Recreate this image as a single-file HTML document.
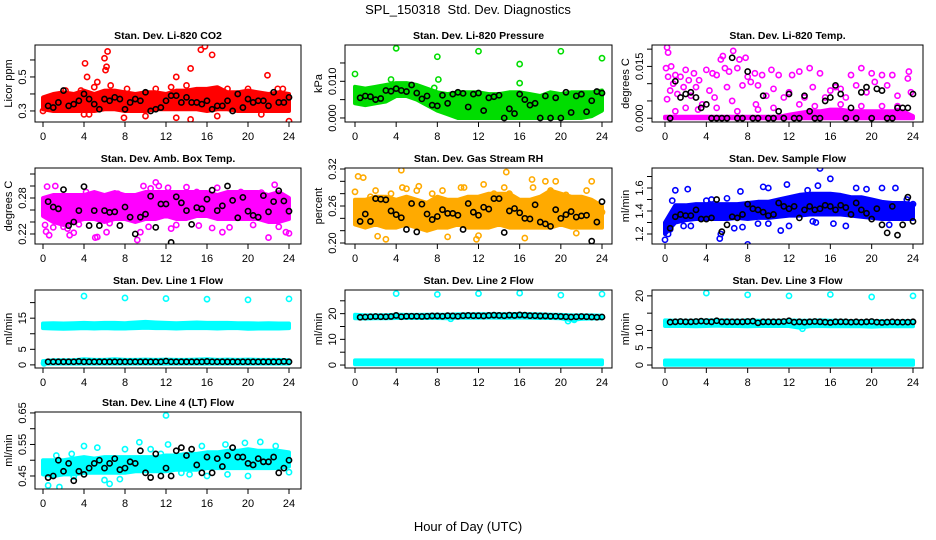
<!DOCTYPE html>
<html><head><meta charset="utf-8"><style>
html,body{margin:0;padding:0;background:#fff;}
svg{display:block;font-family:"Liberation Sans",sans-serif;}
</style></head><body>
<svg id="chart" width="936" height="540" viewBox="0 0 936 540" xmlns="http://www.w3.org/2000/svg">
<rect x="0" y="0" width="936" height="540" fill="#fff"/>
<text x="468" y="14" text-anchor="middle" font-size="13">SPL_150318&#160; Std. Dev. Diagnostics</text>
<text x="468" y="531" text-anchor="middle" font-size="13">Hour of Day (UTC)</text>
</svg>
<script>
const hours=[0,1,2,3,4,5,6,7,8,9,10,11,12,13,14,15,16,17,18,19,20,21,22,23,24];
const blackHours=[0.5,1,1.5,2,2.5,3,3.5,4,4.5,5,5.5,6,6.5,7,7.5,8,8.5,9,9.5,10,10.5,11,11.5,12,12.5,13,13.5,14,14.5,15,15.5,16,16.5,17,17.5,18,18.5,19,19.5,20,20.5,21,21.5,22,22.5,23,23.5,24];
const xTicks=[0,4,8,12,16,20,24];

// Panel 1 CO2
const co2Lo=[0.31,0.30,0.30,0.30,0.30,0.30,0.31,0.31,0.30,0.30,0.30,0.31,0.31,0.31,0.31,0.31,0.30,0.31,0.31,0.30,0.30,0.30,0.30,0.30,0.30];
const co2Hi=[0.38,0.40,0.41,0.40,0.42,0.40,0.42,0.42,0.41,0.40,0.41,0.41,0.40,0.42,0.42,0.43,0.43,0.44,0.41,0.41,0.42,0.41,0.40,0.41,0.40];
const co2Pts=[[4.1,0.58],[4.3,0.50],[5.3,0.47],[6,0.61],[6.1,0.54],[6.3,0.65],[6.2,0.56],[6.6,0.45],[13,0.50],[14.4,0.55],[15.4,0.66],[15.8,0.68],[16.5,0.63],[21.9,0.51],[4,0.28],[4.5,0.28],[7.9,0.26],[13,0.26],[14.4,0.25],[24,0.24],[23.4,0.43],[17,0.27],[10,0.27],[2.2,0.42],[3.7,0.42],[5,0.44],[8.2,0.43],[11,0.43],[12.5,0.44],[14,0.45],[18,0.43],[20,0.43],[22.9,0.43],[0,0.30],[21.3,0.28]];
const co2Black=[0.33,0.32,0.35,0.42,0.33,0.34,0.36,0.40,0.37,0.34,0.31,0.37,0.36,0.38,0.37,0.31,0.35,0.37,0.36,0.41,0.30,0.31,0.32,0.36,0.39,0.39,0.35,0.38,0.35,0.35,0.34,0.36,0.31,0.33,0.33,0.36,0.30,0.40,0.32,0.37,0.35,0.36,0.36,0.33,0.41,0.35,0.35,0.38];

// Panel 2 Pressure
const presLo=[0.004,0.0035,0.004,0.0045,0.006,0.006,0.005,0.0035,0.002,0.001,0,0,0,0,0,0,0,0,0,0,0,0,0,0.0005,0.002];
const presHi=[0.0085,0.008,0.0085,0.009,0.0095,0.0095,0.009,0.008,0.007,0.0065,0.007,0.007,0.007,0.0065,0.0065,0.007,0.007,0.0065,0.006,0.007,0.0065,0.007,0.007,0.007,0.0075];
const presPts=[[0,0.012],[4,0.019],[8,0.0167],[8.1,0.0105],[12,0.0182],[16,0.0147],[16,0.0095],[20,0.0182],[24,0.0163],[3.5,0.0105],[7.7,0.0082]];
const presBlack=[0.0055,0.006,0.0058,0.005,0.0053,0.0075,0.0073,0.008,0.0075,0.0072,0.009,0.0068,0.0052,0.006,0.0035,0.0033,0.0062,0.004,0.0065,0.007,0.0067,0.003,0.0065,0.0068,0.002,0.0055,0.0058,0.0062,0,0.0025,0.0012,0.0065,0.005,0.0035,0.004,0,0.006,0,0.0055,0,0.007,0.0015,0.006,0.0065,0.0017,0.0047,0.0072,0.0068];

// Panel 3 Li-820 Temp
const tempLo=[0,0,0,0,0,0,0,0,0,0,0,0,0,0,0,0,0,0,0,0,0,0,0,0,0];
const tempHi=[0.0004,0.0004,0.0004,0.0004,0.0004,0.0004,0.0004,0.0004,0.0004,0.0004,0.0004,0.0004,0.001,0.0015,0.002,0.002,0.0025,0.0025,0.002,0.002,0.002,0.002,0.002,0.002,0.0006];
const tempPts=[[0.2,0.0205],[0.3,0.019],[0.1,0.0145],[0.3,0.012],[0.6,0.015],[0.8,0.01],[0.5,0.008],[0.2,0.0055],[1,0.0125],[1.2,0.007],[1.5,0.012],[1.8,0.009],[2,0.014],[2.3,0.011],[2.5,0.0065],[2.8,0.013],[3,0.009],[3.3,0.011],[3.6,0.004],[4,0.014],[4.3,0.008],[4.6,0.013],[5,0.0125],[5.4,0.017],[5.6,0.018],[5.8,0.0145],[6,0.009],[6.2,0.0135],[6.6,0.0195],[7,0.0145],[7.2,0.017],[7.5,0.0095],[7.8,0.0175],[8,0.012],[8.3,0.0105],[8.7,0.013],[9,0.0095],[9.4,0.0125],[9.8,0.0065],[10.3,0.014],[10.5,0.0085],[11,0.0125],[11.5,0.006],[12,0.0075],[12.3,0.0125],[13,0.0135],[13.5,0.006],[14,0.0145],[14.3,0.009],[15,0.013],[15.5,0.006],[16,0.008],[16.5,0.009],[17,0.0085],[17.5,0.006],[18,0.0125],[18.5,0.0095],[19,0.0145],[19.5,0.0075],[20,0.013],[20.3,0.0105],[21,0.0125],[21.5,0.0095],[22,0.0125],[22.5,0.0065],[23.5,0.0115],[23.8,0.0075],[23.6,0.0135],[2,0.003],[5,0.003],[7,0.002],[9,0.0025],[10.5,0.003],[1,0.002],[3.2,0.0025],[6.5,0.005],[4.8,0.006],[8.8,0.004],[13,0.004],[14.5,0.0035],[17,0.004],[19,0.0035],[21,0.0035],[22.5,0.0035]];
const tempBlack=[0,0.0107,0.006,0.007,0.0075,0.006,0.003,0.004,0,0,0,0,0.0175,0,0,0.0135,0,0,0.0065,0,0,0.002,0,0.007,0,0,0.0065,0.002,0,0,0.005,0.006,0.0095,0.007,0,0.003,0,0.0075,0.009,0,0.0085,0.008,0,0,0.003,0.003,0.003,0.007];

// Panel 4 Amb box temp
const ambLo=[0.25,0.24,0.235,0.24,0.245,0.245,0.24,0.245,0.245,0.24,0.245,0.245,0.25,0.245,0.245,0.25,0.25,0.245,0.245,0.245,0.245,0.245,0.24,0.24,0.245];
const ambHi=[0.28,0.285,0.285,0.285,0.285,0.29,0.285,0.29,0.285,0.285,0.29,0.29,0.29,0.29,0.29,0.29,0.29,0.285,0.29,0.29,0.29,0.29,0.285,0.29,0.28];
const ambPts=[[0.2,0.235],[0.3,0.224],[0.6,0.218],[0.4,0.299],[1,0.231],[1.2,0.3],[2,0.232],[2.4,0.229],[2.6,0.218],[3,0.222],[3.5,0.236],[4.2,0.29],[5.1,0.214],[5.3,0.215],[6.2,0.223],[6.5,0.238],[7,0.287],[7.3,0.287],[8.5,0.275],[9.2,0.21],[9.5,0.223],[9.8,0.3],[10.3,0.232],[10.5,0.296],[11,0.306],[11.3,0.3],[12.2,0.297],[12.5,0.229],[13,0.235],[14,0.298],[15,0.29],[15.2,0.234],[16.5,0.23],[17,0.297],[17.5,0.223],[18.2,0.231],[19.3,0.29],[20,0.25],[20.5,0.235],[21.3,0.289],[22,0.214],[22.6,0.302],[23.7,0.223],[24,0.221],[23,0.232],[1.5,0.258]];
const ambBlack=[0.274,0.265,0.262,0.294,0.234,0.24,0.259,0.299,0.234,0.259,0.234,0.259,0.256,0.257,0.234,0.265,0.248,0.22,0.248,0.253,0.283,0.231,0.27,0.27,0.206,0.282,0.272,0.259,0.236,0.264,0.262,0.278,0.293,0.259,0.267,0.30,0.276,0.247,0.281,0.258,0.251,0.248,0.284,0.257,0.274,0.292,0.275,0.258];

// Panel 5 Gas stream RH
const rhLo=[0.23,0.225,0.23,0.225,0.225,0.23,0.225,0.22,0.225,0.225,0.23,0.225,0.225,0.225,0.23,0.225,0.225,0.225,0.225,0.225,0.23,0.225,0.225,0.225,0.225];
const rhHi=[0.27,0.27,0.275,0.275,0.27,0.275,0.27,0.265,0.275,0.27,0.27,0.275,0.275,0.28,0.28,0.28,0.27,0.27,0.275,0.285,0.28,0.275,0.275,0.27,0.26];
const rhPts=[[0.3,0.308],[0.8,0.306],[0,0.283],[1.5,0.275],[2,0.285],[2.2,0.211],[3,0.206],[4.5,0.318],[4.6,0.29],[5,0.288],[6,0.285],[6.2,0.292],[7.5,0.28],[8.5,0.285],[9,0.21],[10.3,0.29],[10.6,0.29],[11.8,0.206],[12.5,0.295],[12,0.212],[14.7,0.315],[14.5,0.29],[15,0.28],[16.5,0.208],[17.2,0.303],[17.3,0.29],[18.5,0.3],[19.5,0.3],[19,0.285],[20.5,0.278],[21.5,0.216],[22.5,0.285],[23,0.3],[23.5,0.26],[24,0.25],[13.5,0.28],[3.5,0.28]];
const rhBlack=[0.235,0.247,0.235,0.272,0.271,0.27,0.252,0.246,0.241,0.222,0.264,0.218,0.263,0.247,0.238,0.243,0.254,0.248,0.248,0.245,0.222,0.264,0.25,0.245,0.258,0.255,0.272,0.272,0.217,0.252,0.256,0.249,0.24,0.239,0.262,0.234,0.231,0.227,0.254,0.24,0.246,0.251,0.242,0.244,0.245,0.203,0.234,0.267];

// Panel 6 Sample flow
const sfLo=[1.2,1.3,1.32,1.33,1.33,1.33,1.33,1.34,1.33,1.34,1.34,1.35,1.36,1.36,1.37,1.37,1.37,1.37,1.36,1.35,1.34,1.33,1.33,1.33,1.33];
const sfHi=[1.3,1.45,1.45,1.46,1.46,1.46,1.46,1.46,1.47,1.48,1.48,1.50,1.52,1.54,1.55,1.55,1.55,1.54,1.52,1.52,1.50,1.48,1.47,1.47,1.46];
const sfPts=[[0,1.15],[0.3,1.2],[0.5,1.24],[0.7,1.49],[1,1.58],[1.8,1.27],[2.2,1.59],[2.5,1.27],[4,1.49],[4.5,1.5],[5.3,1.16],[5.4,1.2],[6,1.51],[6.7,1.25],[7.5,1.26],[7.3,1.57],[8,1.11],[9,1.29],[9.5,1.61],[10,1.6],[10,1.29],[11.2,1.23],[11.8,1.63],[12,1.27],[13.8,1.58],[14.3,1.31],[14.6,1.3],[14.8,1.62],[15,1.77],[16,1.68],[16.3,1.29],[17.4,1.8],[17.5,1.27],[18.5,1.6],[19.5,1.59],[21,1.6],[21.7,1.28],[22.3,1.6],[23.4,1.5],[24,1.46],[23,1.42]];
const sfBlack=[1.25,1.35,1.37,1.36,1.36,1.41,1.33,1.33,1.34,1.5,1.22,1.28,1.35,1.34,1.37,1.46,1.42,1.41,1.39,1.36,1.37,1.47,1.44,1.42,1.44,1.34,1.41,1.44,1.41,1.42,1.45,1.44,1.41,1.45,1.43,1.37,1.47,1.41,1.38,1.33,1.42,1.28,1.21,1.44,1.19,1.28,1.52,1.31];

// Panel 7 Line 1 flow
const l1Lo=[11.8,11.7,11.6,11.7,11.8,11.7,11.8,11.7,11.7,11.8,11.9,11.8,11.8,11.7,11.8,11.8,11.8,11.7,11.8,11.8,11.6,11.7,11.7,11.7,11.8];
const l1Hi=[13.3,13.4,13.3,13.4,13.5,13.4,13.5,13.5,13.4,13.6,13.8,13.6,13.5,13.4,13.5,13.6,13.5,13.5,13.5,13.4,13.4,13.3,13.4,13.3,13.3];
const l1BaseLo=[0.4,0.4,0.4,0.4,0.4,0.4,0.4,0.4,0.4,0.4,0.4,0.4,0.4,0.4,0.4,0.4,0.4,0.4,0.4,0.4,0.4,0.4,0.4,0.4,0.4];
const l1BaseHi=[1.2,1.5,1.5,1.5,1.8,1.6,1.6,1.8,1.6,1.6,1.7,1.6,1.7,1.6,1.6,1.7,1.8,1.6,1.7,1.6,1.7,1.6,1.6,1.6,1.5];
const l1Pts=[[4,22.1],[8,21.5],[12,21.3],[16,21.1],[20,20.9],[24,21.2],[0.1,0.5]];
const l1Black=[1.0,1.0,1.0,1.0,1.0,1.0,1.1,1.0,1.0,1.0,1.0,1.0,1.0,1.0,1.0,1.0,1.0,1.0,1.0,1.0,1.0,1.0,1.0,1.2,1.0,1.0,1.0,1.0,1.0,1.0,1.0,1.1,1.0,1.0,1.0,1.0,1.0,1.0,1.0,1.0,1.0,1.0,1.0,1.0,1.0,1.0,1.1,1.0];

// Panel 8 Line 2 flow
const l2Lo=[18.2,18.1,18.2,18.2,18.3,18.3,18.3,18.3,18.3,18.2,18.4,18.4,18.4,18.5,18.4,18.4,18.5,18.4,18.3,18.3,18.2,17.5,18.0,18.1,18.2];
const l2Hi=[19.6,19.3,19.3,19.4,19.6,19.5,19.5,19.6,19.6,19.6,19.7,19.7,19.8,19.8,19.8,19.8,19.9,19.8,19.7,19.6,19.5,19.3,19.3,19.3,19.2];
const l2BaseLo=[0.3,0.3,0.3,0.3,0.3,0.3,0.3,0.3,0.3,0.3,0.3,0.3,0.3,0.3,0.3,0.3,0.3,0.3,0.3,0.3,0.3,0.3,0.3,0.3,0.3];
const l2BaseHi=[1.8,1.8,1.8,1.8,1.8,1.8,1.8,1.8,1.8,1.8,1.8,1.8,1.8,1.8,1.8,1.8,1.8,1.8,1.8,1.8,1.8,1.8,1.8,1.8,1.8];
const l2Pts=[[4,27.8],[8,27.5],[12,27.8],[16,28.0],[20,27.2],[24,27.6],[20.7,17.1],[21.3,17.6],[9.3,18.0]];
const l2Black=[18.6,18.7,18.8,18.9,18.8,18.8,18.9,19.3,18.8,19.0,19.0,19.0,18.9,19.0,19.1,19.1,19.0,19.2,19.1,19.0,19.2,19.3,19.2,19.2,19.1,19.3,19.4,19.3,19.2,19.4,19.3,19.5,19.4,19.2,19.2,19.1,19.1,19.0,19.0,18.9,18.8,18.7,18.8,18.9,18.8,18.7,18.6,18.7];

// Panel 9 Line 3 flow
const l3Lo=[11.3,11.3,11.3,11.2,11.3,11.4,11.3,11.3,11.2,11.3,11.3,11.3,11.3,10.8,11.2,11.3,11.2,11.2,11.2,11.2,11.1,11.2,11.2,11.2,11.2];
const l3Hi=[12.9,12.8,12.8,12.8,12.9,12.9,12.9,12.8,12.9,12.8,12.8,12.8,12.9,12.8,12.8,12.9,12.8,12.8,12.7,12.7,12.7,12.7,12.6,12.7,12.7];
const l3BaseLo=[0.1,0.1,0.1,0.1,0.1,0.1,0.1,0.1,0.1,0.1,0.1,0.1,0.1,0.1,0.1,0.1,0.1,0.1,0.1,0.1,0.1,0.1,0.1,0.1,0.1];
const l3BaseHi=[1.3,1.3,1.3,1.3,1.3,1.3,1.3,1.3,1.3,1.3,1.3,1.3,1.3,1.3,1.3,1.3,1.3,1.3,1.3,1.3,1.3,1.3,1.3,1.3,1.3];
const l3Pts=[[4,20.8],[8,20.3],[12,20.0],[16,20.4],[20,19.7],[24,20.0],[13.3,10.5]];
const l3Black=[12.4,12.5,12.6,12.5,12.5,12.6,12.7,12.6,12.5,12.8,12.5,12.5,12.5,12.5,12.5,12.6,12.7,12.2,12.5,12.5,12.5,12.5,12.6,12.8,12.4,12.5,12.4,12.5,12.6,12.5,12.4,12.3,12.5,12.5,12.5,12.4,12.5,12.4,12.5,12.6,12.4,12.3,12.4,12.5,12.4,12.4,12.4,12.5];

// Panel 10 Line 4 (LT) flow
const l4Lo=[0.455,0.45,0.455,0.455,0.46,0.46,0.46,0.46,0.46,0.465,0.465,0.465,0.465,0.47,0.47,0.47,0.475,0.475,0.475,0.475,0.475,0.475,0.475,0.475,0.48];
const l4Hi=[0.50,0.50,0.50,0.505,0.51,0.505,0.51,0.51,0.51,0.51,0.51,0.51,0.515,0.515,0.52,0.52,0.525,0.525,0.53,0.53,0.535,0.53,0.53,0.53,0.525];
const l4Pts=[[0.5,0.42],[1.6,0.415],[1.3,0.515],[2.8,0.52],[4,0.545],[5.3,0.54],[6.5,0.425],[7.5,0.44],[8,0.535],[9.4,0.557],[10.5,0.535],[12,0.642],[12.2,0.55],[11.5,0.52],[13.5,0.46],[14.3,0.455],[15.5,0.545],[16,0.45],[17.8,0.55],[19.7,0.555],[20,0.45],[21.2,0.558],[22.7,0.545],[24,0.462],[18,0.455],[3,0.448],[6,0.437]];
const l4Black=[0.445,0.45,0.50,0.465,0.49,0.435,0.465,0.455,0.475,0.49,0.50,0.475,0.49,0.505,0.47,0.475,0.495,0.49,0.53,0.46,0.445,0.52,0.45,0.475,0.45,0.53,0.54,0.515,0.535,0.485,0.46,0.51,0.46,0.505,0.48,0.515,0.54,0.51,0.51,0.49,0.485,0.505,0.495,0.495,0.51,0.46,0.475,0.50];

const cols=[{l:35,r:301,x0:43,x24:289},{l:345,r:612,x0:355,x24:602},{l:652,r:923,x0:665,x24:913}];
const rows=[{t:45,b:122},{t:168,b:244},{t:290,b:368},{t:412,b:489}];

const panels=[
 {key:'co2',title:'Stan. Dev. Li-820 CO2',ylab:'Licor ppm',c:0,r:0,yMin:0.235,yMax:0.688,ticks:[0.3,0.4,0.5,0.6],labels:[0.3,0.5],fmt:1,color:'#ff0000',lo:co2Lo,hi:co2Hi,pts:co2Pts,black:co2Black},
 {key:'pressure',title:'Stan. Dev. Li-820 Pressure',ylab:'kPa',c:1,r:0,yMin:-0.0011,yMax:0.0199,ticks:[0,0.005,0.01,0.015],labels:[0,0.01],fmt:3,color:'#00dd00',lo:presLo,hi:presHi,pts:presPts,black:presBlack},
 {key:'li820-temp',title:'Stan. Dev. Li-820 Temp.',ylab:'degrees C',c:2,r:0,yMin:-0.0011,yMax:0.0212,ticks:[0,0.005,0.01,0.015,0.02],labels:[0,0.015],fmt:3,color:'#ff00ff',lo:tempLo,hi:tempHi,pts:tempPts,black:tempBlack},
 {key:'amb-box-temp',title:'Stan. Dev. Amb. Box Temp.',ylab:'degrees C',c:0,r:1,yMin:0.2033,yMax:0.33,ticks:[0.22,0.24,0.26,0.28,0.30,0.32],labels:[0.22,0.28],fmt:2,color:'#ff00ff',lo:ambLo,hi:ambHi,pts:ambPts,black:ambBlack},
 {key:'gas-rh',title:'Stan. Dev. Gas Stream RH',ylab:'percent',c:1,r:1,yMin:0.1984,yMax:0.3216,ticks:[0.20,0.22,0.24,0.26,0.28,0.30,0.32],labels:[0.20,0.26,0.32],fmt:2,color:'#ffaa00',lo:rhLo,hi:rhHi,pts:rhPts,black:rhBlack},
 {key:'sample-flow',title:'Stan. Dev. Sample Flow',ylab:'ml/min',c:2,r:1,yMin:1.113,yMax:1.774,ticks:[1.2,1.3,1.4,1.5,1.6,1.7],labels:[1.2,1.4,1.6],fmt:1,color:'#0000ff',lo:sfLo,hi:sfHi,pts:sfPts,black:sfBlack},
 {key:'line1-flow',title:'Stan. Dev. Line 1 Flow',ylab:'ml/min',c:0,r:2,yMin:-1.0,yMax:24.05,ticks:[0,5,10,15,20],labels:[0,5,15],fmt:0,color:'#00ffff',lo:l1Lo,hi:l1Hi,lo2:l1BaseLo,hi2:l1BaseHi,pts:l1Pts,black:l1Black},
 {key:'line2-flow',title:'Stan. Dev. Line 2 Flow',ylab:'ml/min',c:1,r:2,yMin:-1.15,yMax:29.2,ticks:[0,5,10,15,20,25],labels:[0,10,20],fmt:0,color:'#00ffff',lo:l2Lo,hi:l2Hi,lo2:l2BaseLo,hi2:l2BaseHi,pts:l2Pts,black:l2Black},
 {key:'line3-flow',title:'Stan. Dev. Line 3 Flow',ylab:'ml/min',c:2,r:2,yMin:-0.86,yMax:21.7,ticks:[0,5,10,15,20],labels:[0,5,10,20],fmt:0,color:'#00ffff',lo:l3Lo,hi:l3Hi,lo2:l3BaseLo,hi2:l3BaseHi,pts:l3Pts,black:l3Black},
 {key:'line4-flow',title:'Stan. Dev. Line 4 (LT) Flow',ylab:'ml/min',c:0,r:3,yMin:0.4087,yMax:0.653,ticks:[0.45,0.5,0.55,0.6,0.65],labels:[0.45,0.55,0.65],fmt:2,color:'#00ffff',lo:l4Lo,hi:l4Hi,pts:l4Pts,black:l4Black}
];

const NS='http://www.w3.org/2000/svg';
const svg=document.getElementById('chart');
function mk(tag,attrs,parent){const e=document.createElementNS(NS,tag);for(const k in attrs)e.setAttribute(k,attrs[k]);(parent||svg).appendChild(e);return e;}

panels.forEach(p=>{
  const col=cols[p.c], row=rows[p.r];
  const xs=h=>col.x0+(h/24)*(col.x24-col.x0);
  const ys=v=>row.b-(v-p.yMin)/(p.yMax-p.yMin)*(row.b-row.t);
  const g=mk('g',{});
  
  
  const clip=mk('clipPath',{id:'clip-'+p.key},g);
  mk('rect',{x:col.l,y:row.t,width:col.r-col.l,height:row.b-row.t},clip);
  const plot=mk('g',{'clip-path':'url(#clip-'+p.key+')'},g);
  
  
  function band(lo,hi,nm){
    const pts=[];
    hours.forEach((h,i)=>pts.push(xs(h).toFixed(1)+','+ys(hi[i]).toFixed(1)));
    for(let i=hours.length-1;i>=0;i--)pts.push(xs(hours[i]).toFixed(1)+','+ys(lo[i]).toFixed(1));
    const poly=mk('polygon',{points:pts.join(' '),fill:p.color,stroke:p.color,'stroke-width':4,'stroke-linejoin':'round'},plot);
    
    
  }
  band(p.lo,p.hi,'dense-band-'+p.key);
  if(p.lo2) band(p.lo2,p.hi2,'baseline-band-'+p.key);
  p.pts.forEach(q=>{
    const c=mk('circle',{cx:xs(q[0]),cy:ys(q[1]),r:2.6,fill:'none',stroke:p.color,'stroke-width':1.6},plot);
    
    
  });
  blackHours.forEach((h,i)=>{
    const c=mk('circle',{cx:xs(h),cy:ys(p.black[i]),r:2.6,fill:'none',stroke:'#000','stroke-width':1.6},plot);
    
    
  });
  const box=mk('rect',{x:col.l,y:row.t,width:col.r-col.l,height:row.b-row.t,fill:'none',stroke:'#000','stroke-width':1},g);
  
  
  const t=mk('text',{x:(col.l+col.r)/2,y:row.t-6,'text-anchor':'middle','font-size':10.5,'font-weight':'bold'},g);
  t.textContent=p.title;
  
  
  xTicks.forEach(v=>{
    const tk=mk('line',{x1:xs(v),x2:xs(v),y1:row.b,y2:row.b+5,stroke:'#000'},g);
    
    
    const lb=mk('text',{x:xs(v),y:row.b+18,'text-anchor':'middle','font-size':11},g);
    lb.textContent=String(v);
    
    
  });
  const ya=mk('line',{x1:col.l,x2:col.l,y1:ys(p.ticks[0]),y2:ys(p.ticks[p.ticks.length-1]),stroke:'#000'},g);
  
  
  p.ticks.forEach(v=>{
    const tk=mk('line',{x1:col.l-5,x2:col.l,y1:ys(v),y2:ys(v),stroke:'#000'},g);
    
    
  });
  p.labels.forEach(v=>{
    const x=col.l-9, y=ys(v);
    const lb=mk('text',{x:x,y:y,'text-anchor':'middle','font-size':11,transform:'rotate(-90 '+x+' '+y+')'},g);
    lb.textContent=v.toFixed(p.fmt);
    
    
  });
  const yx=col.l-23, yy=(row.t+row.b)/2;
  const yl=mk('text',{x:yx,y:yy,'text-anchor':'middle','font-size':11,transform:'rotate(-90 '+yx+' '+yy+')'},g);
  yl.textContent=p.ylab;
  
  
});
</script>
</body></html>
